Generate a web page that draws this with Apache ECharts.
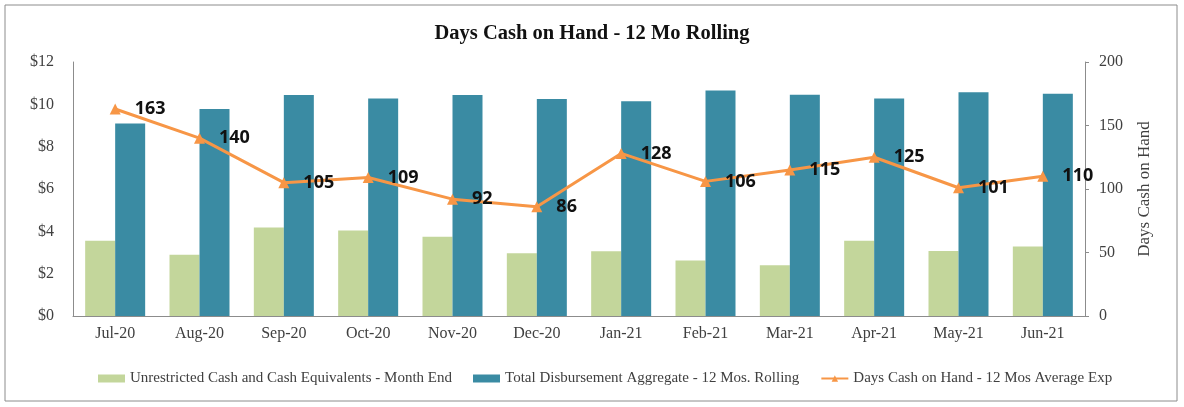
<!DOCTYPE html>
<html>
<head>
<meta charset="utf-8">
<script src="https://cdn.jsdelivr.net/npm/echarts@6/dist/echarts.min.js"></script>
<style>
  html, body { margin: 0; padding: 0; background: #fff; }
  #main { width: 1184px; height: 407px; }
</style>
</head>
<body>
<div id="main"></div>
<script>
var months = ['Jul-20','Aug-20','Sep-20','Oct-20','Nov-20','Dec-20','Jan-21','Feb-21','Mar-21','Apr-21','May-21','Jun-21'];
// 现金 (百万$)
var cashMonthEnd = [3.55, 2.89, 4.18, 4.04, 3.74, 2.97, 3.06, 2.62, 2.40, 3.55, 3.07, 3.28];
var disbursement = [9.09, 9.78, 10.44, 10.28, 10.44, 10.25, 10.15, 10.65, 10.45, 10.28, 10.57, 10.50];
var daysCash = [163, 140, 105, 109, 92, 86, 128, 106, 115, 125, 101, 110];
var leftTicks = [0, 2, 4, 6, 8, 10, 12];
var rightTicks = [0, 50, 100, 150, 200];

var myChart = echarts.init(document.getElementById('main'));
var serif = '"Liberation Serif", "DejaVu Serif", serif';

myChart.setOption({
    animation: false,
    title: {
        text: 'Days Cash on Hand - 12 Mo Rolling',
        left: 'center',
        top: 18,
        textStyle: { fontFamily: serif, fontWeight: 'bold', fontSize: 20.5, color: '#111' }
    },
    graphic: [{
        type: 'rect',
        shape: { x: 5, y: 5, width: 1172, height: 396 },
        style: { fill: 'none', stroke: '#8c8c8c', lineWidth: 1 },
        silent: true
    }],
    legend: {
        bottom: 16,
        left: 93,
        itemWidth: 27,
        itemHeight: 8,
        itemGap: 21,
        textStyle: { fontFamily: serif, fontSize: 15, color: '#404040' },
        data: [
            { name: 'Unrestricted Cash and Cash Equivalents - Month End', icon: 'rect' },
            { name: 'Total Disbursement Aggregate - 12 Mos. Rolling', icon: 'rect' },
            { name: 'Days Cash on Hand - 12 Mos Average Exp' }
        ]
    },
    grid: { left: 73, right: 99, top: 62, bottom: 91 },
    xAxis: {
        type: 'category',
        data: months,
        axisLine: { lineStyle: { color: '#8c8c8c', width: 1 } },
        axisTick: { show: false },
        axisLabel: { fontFamily: serif, fontSize: 16, color: '#404040', margin: 10 }
    },
    yAxis: [{
        type: 'value',
        min: 0, max: 12, interval: 2,
        axisLine: { show: true, lineStyle: { color: '#8c8c8c' } },
        axisTick: { show: false },
        splitLine: { show: false },
        axisLabel: {
            fontFamily: serif, fontSize: 16, color: '#404040', margin: 19,
            formatter: function (v) { return '$' + v; }
        }
    }, {
        type: 'value',
        min: 0, max: 200, interval: 50,
        position: 'right',
        name: 'Days Cash on Hand',
        nameLocation: 'middle',
        nameRotate: 90,
        nameGap: 51,
        nameTextStyle: { fontFamily: serif, fontSize: 17, color: '#404040' },
        axisLine: { show: true, lineStyle: { color: '#8c8c8c' } },
        axisTick: { show: true, length: 4, lineStyle: { color: '#8c8c8c' } },
        splitLine: { show: false },
        axisLabel: { fontFamily: serif, fontSize: 16, color: '#404040', margin: 14 }
    }],
    series: [
        {
            name: 'Unrestricted Cash and Cash Equivalents - Month End',
            type: 'bar',
            data: cashMonthEnd,
            barWidth: 30,
            barGap: '0%',
            itemStyle: { color: '#C3D69B' }
        },
        {
            name: 'Total Disbursement Aggregate - 12 Mos. Rolling',
            type: 'bar',
            data: disbursement,
            barWidth: 30,
            barGap: '0%',
            itemStyle: { color: '#3A8BA3' }
        },
        {
            name: 'Days Cash on Hand - 12 Mos Average Exp',
            type: 'line',
            yAxisIndex: 1,
            data: daysCash,
            symbol: 'triangle',
            symbolSize: 11,
            lineStyle: { color: '#F79646', width: 3 },
            itemStyle: { color: '#F79646' },
            label: {
                show: true,
                position: 'right',
                distance: 14,
                fontFamily: '"Open Sans", "Noto Sans", sans-serif',
                fontWeight: 'bold',
                fontSize: 18,
                color: '#111'
            }
        }
    ]
});
</script>
</body>
</html>
